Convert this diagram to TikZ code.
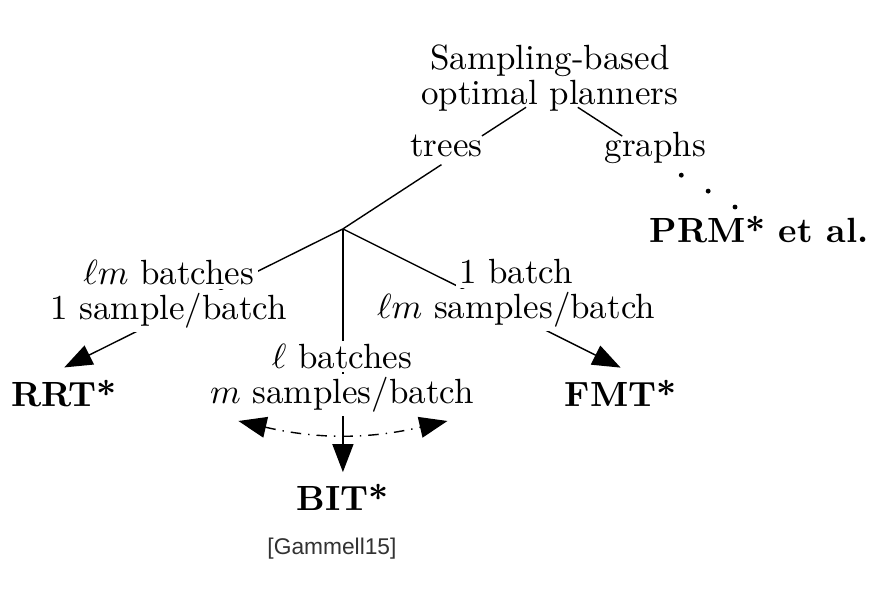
\documentclass[tikz,border=0pt]{standalone}
\usepackage{amsmath}
\usepackage{fontspec}
\newfontfamily\citefont{Liberation Sans}
\usetikzlibrary{arrows.meta,positioning,calc}
\definecolor{citegray}{RGB}{50,50,50}
% white box behind one line of a branch label
\newcommand{\wb}[1]{{\setlength{\fboxsep}{1pt}\colorbox{white}{#1}}}

\begin{document}
\begin{tikzpicture}[x=0.01cm, y=-0.01cm,
  txt/.style={font=\fontsize{10}{10}\selectfont, align=center},
  algo/.style={font=\fontsize{10}{10}\selectfont\bfseries},
  lbl/.style={txt, inner sep=0pt},
  arr/.style={-{Triangle[length=8pt,width=6pt]}},
  biarr/.style={{Triangle[length=8pt,width=6pt]}-{Triangle[length=8pt,width=6pt]}}]
\fill[white] (0,0) rectangle (880,594);
% Root and first split
\node[txt] (root) at (551,78) {Sampling-based\\optimal planners};
\node[txt] (trees) at (447,147) {trees};
\node[txt] (graphs) at (657,149) {graphs};
\draw ($(root.south)+(-24,-16)$) -- ($(trees.north east)+(-13,13)$);
\draw ($(root.south)+(28,-16)$) -- ($(graphs.north west)+(30,16)$);
% Graphs side
\foreach \x/\y in {683/176, 710/192, 737/208} {
  \fill (\x,\y) circle[radius=0.7pt];
}
\node[algo] (prm) at (761,231) {PRM* et al.};
% Tree side: three branches
\coordinate (fork) at (343,230);
\node[algo] (rrt) at (63,395) {RRT*};
\node[algo] (bit) at (343,500) {BIT*};
\node[algo] (fmt) at (622,395) {FMT*};
\draw ($(trees.south)+(-5,-5)$) -- (fork);
\draw[arr] (fork) -- (rrt.north);
\draw[arr] (fork) -- (bit.north);
\draw[arr] (fork) -- (fmt.north);
% Branch labels
\node[lbl] (rrtlab) at (168,296) {\wb{$\ell m$ batches}\\\wb{1 sample/batch}};
\node[lbl] (bitlab) at (342,380) {\wb{$\ell$ batches}\\\wb{$m$ samples/batch}};
\node[lbl] (fmtlab) at (517,295) {\wb{1 batch}\\\wb{$\ell m$ samples/batch}};
% BIT* sits between the two
\coordinate (bitl) at (238,423);
\coordinate (bitr) at (448,423);
\draw[biarr, dash dot] (bitl) to[bend right=13] (bitr);
\node[font=\citefont\fontsize{6.5}{7}\selectfont, text=citegray] (cite) at (332,551) {[Gammell15]};
\end{tikzpicture}
\end{document}
